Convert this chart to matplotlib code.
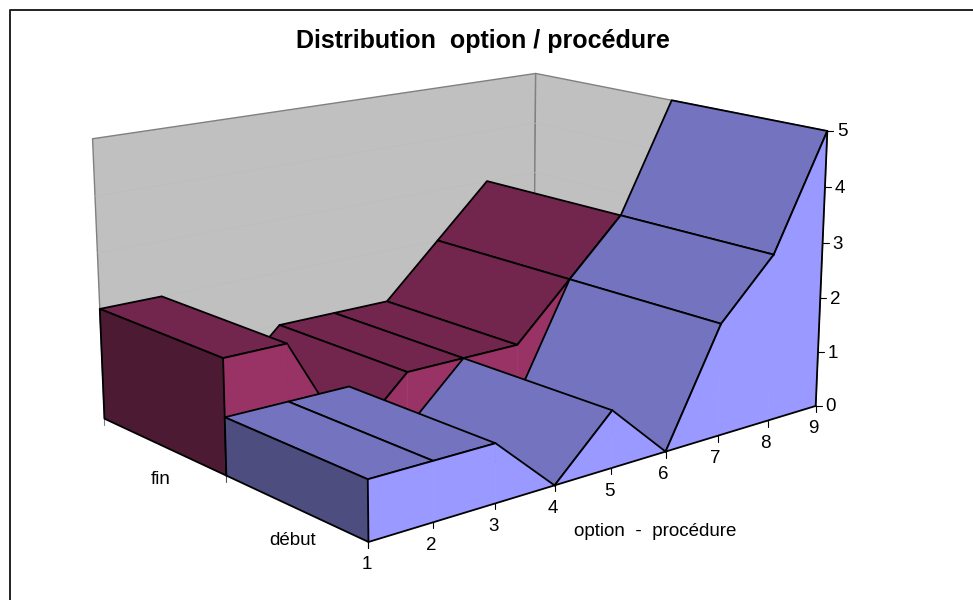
import itertools
import numpy as np
import matplotlib
matplotlib.use('Agg')
import matplotlib.pyplot as plt
from matplotlib.patches import Polygon

plt.rcParams['font.family'] = ['Liberation Sans', 'DejaVu Sans']

# Values
options = ['1', '2', '3', '4', '5', '6', '7', '8', '9']
series_names = ['début', 'fin']
debut_values = [1, 1, 1, 0, 1, 0, 2, 3, 5]
fin_values = [2, 2, 0, 1, 1, 1, 2, 3, 0]
z_ticks = [0, 1, 2, 3, 4, 5]

title = 'Distribution  option / procédure'
x_title = 'option  -  procédure'

# Camera calibration: box position (option index, depth, value) -> pixel
anchor_box = [(0, 0, 0), (8, 0, 0), (8, 0, 5), (0, 2, 0), (0, 2, 5), (8, 2, 5),
              (0, 1, 0), (0, 1, 1), (0, 1, 2), (0, 2, 2), (0, 0, 1), (8, 1, 5),
              (7, 0, 3), (6, 0, 2), (4, 0, 1), (5, 0, 0), (3, 0, 0)]
anchor_px = [(368, 542), (816, 406), (827, 130), (105, 420), (93, 138), (535, 73),
             (225, 475), (225, 418), (223, 359), (100, 308), (368, 479), (672, 101),
             (774, 256), (721, 325), (613, 411), (666, 449), (554, 485)]


def fit_camera(box, px):
    rows = []
    for (u, v, w), (x, y) in zip(box, px):
        x, y = x / 1000, y / 1000
        rows.append([u, v, w, 1, 0, 0, 0, 0, -x * u, -x * v, -x * w, -x])
        rows.append([0, 0, 0, 0, u, v, w, 1, -y * u, -y * v, -y * w, -y])
    _, _, vt = np.linalg.svd(np.array(rows, dtype=float))
    return vt[-1].reshape(3, 4)


camera = fit_camera(anchor_box, anchor_px)


def proj(u, v, w):
    p = camera @ np.array([u, v, w, 1.0])
    return p[0] / p[2] * 1000, p[1] / p[2] * 1000


def proj_all(pts):
    return [proj(*p) for p in pts]


def signed_area(pts):
    a = np.array(pts)
    x, y = a[:, 0], a[:, 1]
    return 0.5 * np.sum(x * np.roll(y, -1) - np.roll(x, -1) * y)


fig = plt.figure(figsize=(9.73, 6.0), dpi=100)
ax = fig.add_axes([0, 0, 1, 1])
ax.set_xlim(0, 973)
ax.set_ylim(600, 0)
ax.axis('off')

# Painter order has to be kept, so every artist gets its own zorder
order = itertools.count(1)


def line(pts, color='black', lw=1.3):
    ax.plot(*zip(*pts), color=color, lw=lw, solid_capstyle='round', zorder=next(order))


def face(pts, fc, ec, lw):
    ax.add_patch(Polygon(pts, closed=True, facecolor=fc, edgecolor=ec, lw=lw,
                         joinstyle='round', zorder=next(order)))


# Chart frame
line([(10, 600), (10, 10), (973, 10)], color='#222222', lw=1.4)

last = len(options) - 1

# Walls
wall_back = [(0, 2, 0), (last, 2, 0), (last, 2, 5), (0, 2, 5)]
wall_side = [(last, 2, 0), (last, 0, 0), (last, 0, 5), (last, 2, 5)]
for wall in (wall_back, wall_side):
    face(proj_all(wall), '#C0C0C0', '#808080', 1.0)
for z in z_ticks[1:-1]:
    line(proj_all([(0, 2, z), (last, 2, z), (last, 0, z)]), color='#BDBDBD', lw=0.5)

# Depth ticks
for d, col in [(2, '#808080'), (1, '#555555'), (0, '#555555')]:
    x, y = proj(0, d, 0)
    line([(x, y), (x, y + 6)], color=col, lw=0.8)


def draw_ribbon(values, v0, v1, wall_col, top_col, side_col):
    # Segments drawn from the far end to the near end, back faces skipped
    for i in range(len(values) - 2, -1, -1):
        a, b = values[i], values[i + 1]
        top = proj_all([(i, v0, a), (i + 1, v0, b), (i + 1, v1, b), (i, v1, a)])
        if signed_area(top) < 0:
            face(top, top_col, 'black', 1.3)
        front = proj_all([(i, v0, 0), (i + 1, v0, 0), (i + 1, v0, b), (i, v0, a)])
        face(front, wall_col, wall_col, 0.4)
        line([front[3], front[2]])
        line([front[0], front[1]])
    a = values[0]
    cap = proj_all([(0, v0, 0), (0, v1, 0), (0, v1, a), (0, v0, a)])
    face(cap, side_col, 'black', 1.3)


draw_ribbon(fin_values, 1, 2, '#993366', '#73264D', '#4D1A33')
draw_ribbon(debut_values, 0, 1, '#9999FF', '#7373BF', '#4D4D80')

text_z = 10000

# Value axis on the right
line(proj_all([(last, 0, 0), (last, 0, 5)]))
for z in z_ticks:
    x, y = proj(last, 0, z)
    line([(x, y), (x + 6, y)], lw=0.8)
    ax.text(x + 15, y + 1, str(z), fontsize=13.5, ha='center', va='center', color='black', zorder=text_z)

# Option axis
for i, lab in enumerate(options):
    x, y = proj(i, 0, 0)
    line([(x, y), (x, y + 6)], lw=0.8)
    ax.text(x - 2, y + 23, lab, fontsize=13.5, ha='center', va='center', color='black', zorder=text_z)

# Series labels
for d, lab in enumerate(series_names):
    x, y = proj(0, d + 0.5, 0)
    ax.text(x - 2, y + 33, lab, fontsize=13.5, ha='center', va='center', color='black', zorder=text_z)

ax.text(655, 531, x_title, fontsize=13.5, ha='center', va='center', color='black', zorder=text_z)
ax.text(483, 41, title, fontsize=18, fontweight='bold', ha='center', va='center', color='black', zorder=text_z)

plt.savefig('out.png', dpi=100)
